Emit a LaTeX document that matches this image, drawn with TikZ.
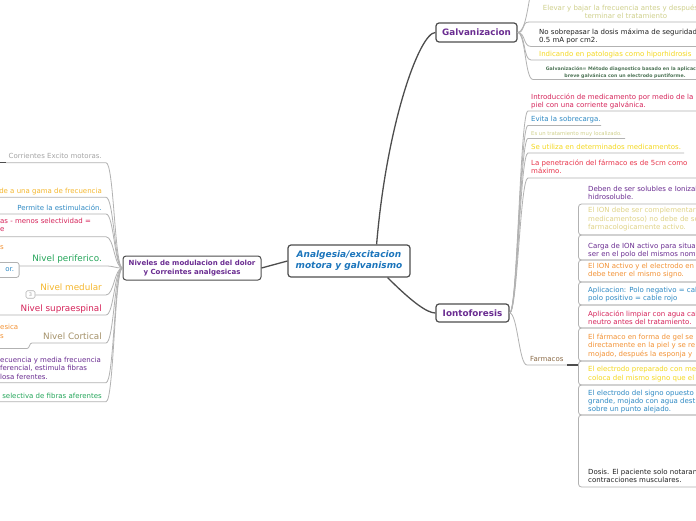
\documentclass[tikz,border=0pt]{standalone}
\usepackage{fontspec}
\setmainfont{DejaVu Sans}[ItalicFont={DejaVu Sans Oblique},BoldItalicFont={DejaVu Sans Bold Oblique}]
\usepackage{xcolor}
\definecolor{mmdark}{RGB}{77,77,77}
\definecolor{mmtwig}{RGB}{178,178,178}
\definecolor{mmpurple}{RGB}{106,44,145}
\definecolor{mmblue}{RGB}{27,117,188}
\definecolor{mmleafblue}{RGB}{47,138,196}
\definecolor{mmcrimson}{RGB}{214,36,90}
\definecolor{mmred}{RGB}{232,51,74}
\definecolor{mmyellow}{RGB}{244,216,30}
\definecolor{mmgold}{RGB}{245,183,45}
\definecolor{mmorange}{RGB}{243,146,52}
\definecolor{mmgreen}{RGB}{37,166,90}
\definecolor{mmtan}{RGB}{165,146,106}
\definecolor{mmolive}{RGB}{207,208,140}
\definecolor{mmkhaki}{RGB}{224,211,135}
\definecolor{mmgray}{RGB}{165,165,165}
\definecolor{mmgreengray}{RGB}{77,116,86}
\definecolor{mmbrown}{RGB}{139,107,71}
\definecolor{mmtext}{RGB}{34,34,34}
\usetikzlibrary{positioning}
\newcommand\mmsmall{\fontsize{7}{8.3}\selectfont}
\newcommand\mmlevel{\fontsize{8.8}{10}\selectfont}

\begin{document}
\begin{tikzpicture}[x=1pt, y=-1pt,
    topic/.style={rectangle, rounded corners=3pt, draw=mmdark, line width=1.2pt,
      fill=white, align=center, inner sep=0pt},
    leaf/.style={inner sep=0pt, align=left, font=\mmsmall},
    level/.style={inner sep=0pt, font=\mmlevel},
    twig/.style={draw=mmtwig, line width=0.8pt},
    branch/.style={draw=mmdark, line width=1.3pt},
    fbox/.style={draw=mmtwig, line width=0.8pt, rounded corners=3pt}
]
\useasboundingbox (0,0) rectangle (696,520);
\fill[white] (0,0) rectangle (696,520);
\clip (0,0) rectangle (696,520);

% main topics
\node[topic, minimum width=122pt, minimum height=32pt, text=mmblue,
  font=\bfseries\itshape\fontsize{9}{11}\selectfont] (cen) at (349,261)
  {Analgesia/excitacion\\motora y galvanismo};
\node[topic, minimum width=138pt, minimum height=24pt, line width=1pt, text=mmpurple,
  font=\bfseries\fontsize{7}{9.3}\selectfont] (niv) at (192,268)
  {Niveles de modulacion del dolor\\y Correintes analgesicas};
\node[topic, minimum width=81pt, minimum height=19pt, text=mmpurple,
  font=\bfseries\fontsize{8.8}{10}\selectfont] (galv) at (476.5,32.5) {Galvanizacion};
\node[topic, minimum width=73pt, minimum height=18pt, text=mmpurple,
  font=\bfseries\fontsize{8.8}{10}\selectfont] (iono) at (472.5,313) {Iontoforesis};

\draw[branch] ([xshift=-34pt]cen.north east) .. controls +(10,-120) and +(-16,0) .. (galv.west);
\draw[branch] ([xshift=-23pt]cen.south east) .. controls +(25,25) and +(-8,0) .. (iono.west);
\draw[branch] (niv.east) -- (cen.west);

% Galvanizacion
\coordinate (gtop) at (531,-8);
\coordinate (g1u) at (529,22);
\coordinate (g2u) at (531,46.5);
\coordinate (g3u) at (531,60);
\coordinate (g4u) at (533,79.5);
\draw[twig] (galv.east) .. controls +(8,0) and +(-3,12) .. (gtop);
\foreach \c in {g1u,g2u,g3u,g4u}
  \draw[twig] (galv.east) .. controls +(8,0) and +(-8,0) .. (\c) -- ++(180,0);

\node[leaf, anchor=base, align=center, text=mmolive] (g1) at (626,18.3)
  {Elevar y bajar la frecuencia antes y después de\\terminar el tratamiento};
\node[leaf, anchor=base west, text=mmtext] (g2) at (539,42.3)
  {No sobrepasar la dosis máxima de seguridad\\0.5 mA por cm2.};
\node[leaf, anchor=base west, text=mmyellow] (g3) at (539,56)
  {Indicando en patologias como hiporhidrosis};
\node[leaf, anchor=base, align=center, text=mmgreengray,
  font=\bfseries\fontsize{4.7}{7}\selectfont] (g4) at (625,77)
  {Galvanización= Método diagnostico basado en la aplicación\\breve galvánica con un electrodo puntiforme.};

% Iontoforesis
\coordinate (i1u) at (528,111);
\coordinate (i2u) at (528,125.5);
\coordinate (i3u) at (528,138.5);
\coordinate (i4u) at (528,153);
\coordinate (i5u) at (528,178);
\coordinate (fu) at (527,365);
\foreach \c/\l in {i1u/180, i2u/73, i3u/97, i4u/156, i5u/180}
  \draw[twig] (iono.east) .. controls +(8,0) and +(-8,0) .. (\c) -- ++(\l,0);
\draw[twig] (iono.east) .. controls +(8,0) and +(-8,0) .. (fu) -- ++(40,0) coordinate (fd);
\draw[branch] (fd) -- ++(11,0);

\node[leaf, anchor=base west, text=mmcrimson] (i1) at (531,107.3)
  {Introducción de medicamento por medio de la\\piel con una corriente galvánica.};
\node[leaf, anchor=base west, text=mmleafblue] (i2) at (531,121) {Evita la sobrecarga.};
\node[leaf, anchor=base west, text=mmolive, font=\fontsize{5.3}{6}\selectfont] (i3) at (531,135.7)
  {Es un tratamiento muy localizado.};
\node[leaf, anchor=base west, text=mmyellow] (i4) at (531,149.3)
  {Se utiliza en determinados medicamentos.};
\node[leaf, anchor=base west, text=mmred] (i5) at (531,173.3)
  {La penetración del fármaco es de 5cm como\\máximo.};
\node[leaf, anchor=base west, text=mmbrown] (farm) at (530,361) {Farmacos};

% Farmacos
\foreach \ya/\yb in {204/235, 235/260, 260/282, 282/305, 305/328, 328/361, 361/385, 385/415, 415/487}
  \draw[fbox] (700,\ya) -- (578.5,\ya) -- (578.5,\yb) -- (700,\yb);

\node[leaf, anchor=base west, text=mmpurple] (f1) at (588,199.3)
  {Deben de ser solubles e Ionizables\\hidrosoluble.};
\node[leaf, anchor=base west, text=mmkhaki] (f2) at (588,229.3)
  {El ION debe ser complementario\\medicamentoso) no debe de ser\\farmacologicamente activo.};
\node[leaf, anchor=base west, text=mmpurple] (f3) at (588,256.7)
  {Carga de ION activo para situar\\ser en el polo del mismos nombre};
\node[leaf, anchor=base west, text=mmorange] (f4) at (588,276.7)
  {El ION activo y el electrodo en\\debe tener el mismo signo.};
\node[leaf, anchor=base west, text=mmleafblue] (f5) at (588,300.7)
  {Aplicacion: Polo negativo = cable\\polo positivo = cable rojo};
\node[leaf, anchor=base west, text=mmcrimson] (f6) at (588,324.3)
  {Aplicación limpiar con agua caliente\\neutro antes del tratamiento.};
\node[leaf, anchor=base west, text=mmorange] (f7) at (588,356)
  {El fármaco en forma de gel se\\directamente en la piel y se re\\mojado, después la esponja y};
\node[leaf, anchor=base west, text=mmyellow] (f8) at (588,380)
  {El electrodo preparado con me\\coloca del mismo signo que el};
\node[leaf, anchor=base west, text=mmleafblue] (f9) at (588,411.7)
  {El electrodo del signo opuesto\\grande, mojado con agua dest\\sobre un punto alejado.};
\node[leaf, anchor=base west, text=mmtext] (f10) at (588,482.3)
  {Dosis. El paciente solo notaran\\contracciones musculares.};

% Niveles
\node[draw=mmtwig, line width=0.8pt, rounded corners=2.5pt, anchor=north east,
  text width=50pt, align=right, minimum height=15pt, inner xsep=5pt, inner ysep=0pt,
  font=\mmsmall, text=mmleafblue] (orbox) at (19.5,262) {or.};
\node[draw=mmtwig, line width=0.6pt, rounded corners=1.5pt, inner sep=0pt,
  minimum width=9pt, minimum height=7.5pt, font=\fontsize{5}{6}\selectfont,
  text=mmgray] (badge) at (30.5,294.5) {3};

\coordinate (l1u) at (106,162.7);
\coordinate (l2u) at (106,197.3);
\coordinate (l3u) at (106,214);
\coordinate (l4u) at (106,236.7);
\coordinate (l5u) at (106,266);
\coordinate (l6u) at (106,295);
\coordinate (l7u) at (106,315);
\coordinate (l8u) at (106,343);
\coordinate (l9u) at (106,382.7);
\coordinate (l10u) at (106,401.7);
\foreach \c in {l2u,l3u,l4u,l7u,l9u,l10u}
  \draw[twig] (niv.west) .. controls +(-8,0) and +(8,0) .. (\c) -- ++(-110,0);
\draw[twig] (niv.west) .. controls +(-8,0) and +(8,0) .. (l1u) -- ++(-100,0) coordinate (l1d);
\draw[branch] (l1d) -- ++(-10,0);
\draw[twig] (niv.west) .. controls +(-8,0) and +(8,0) .. (l5u) -- (l5u -| orbox.east);
\draw[twig] (niv.west) .. controls +(-8,0) and +(8,0) .. (l6u) -- (l6u -| badge.east);
\draw[twig] (niv.west) .. controls +(-8,0) and +(8,0) .. (l8u) -- (32,343)
  to[out=180, in=0] (27,348.5) -- (-4,348.5);

\node[leaf, anchor=base east, text=mmgray] (l1) at (102,158.3) {Corrientes Excito motoras.};
\node[leaf, anchor=base east, text=mmgold] (l2) at (102,193.3) {de a una gama de frecuencia};
\node[leaf, anchor=base east, text=mmleafblue] (l3) at (102,210) {Permite la estimulación.};
\node[leaf, anchor=base west, text=mmcrimson] (l4) at (0,231.7) {as - menos selectividad =\\e};
\node[leaf, anchor=base west, text=mmorange] (l5s) at (0,249) {s};
\node[level, anchor=base east, text=mmgreen] (l5) at (102,261.7) {Nivel periferico.};
\node[level, anchor=base east, text=mmgold] (l6) at (102,290) {Nivel medular};
\node[level, anchor=base east, text=mmcrimson] (l7) at (102,311.7) {Nivel supraespinal};
\node[leaf, anchor=base west, text=mmorange] (l8s) at (0,338) {esica\\s};
\node[level, anchor=base east, text=mmtan] (l8) at (102,339.3) {Nivel Cortical};
\node[leaf, anchor=base west, text=mmpurple] (l9) at (0,379)
  {ecuencia y media frecuencia\\ferencial, estimula fibras\\losa ferentes.};
\node[leaf, anchor=base east, text=mmgreen] (l10) at (102,398.3) {a selectiva de fibras aferentes};
\end{tikzpicture}
\end{document}
